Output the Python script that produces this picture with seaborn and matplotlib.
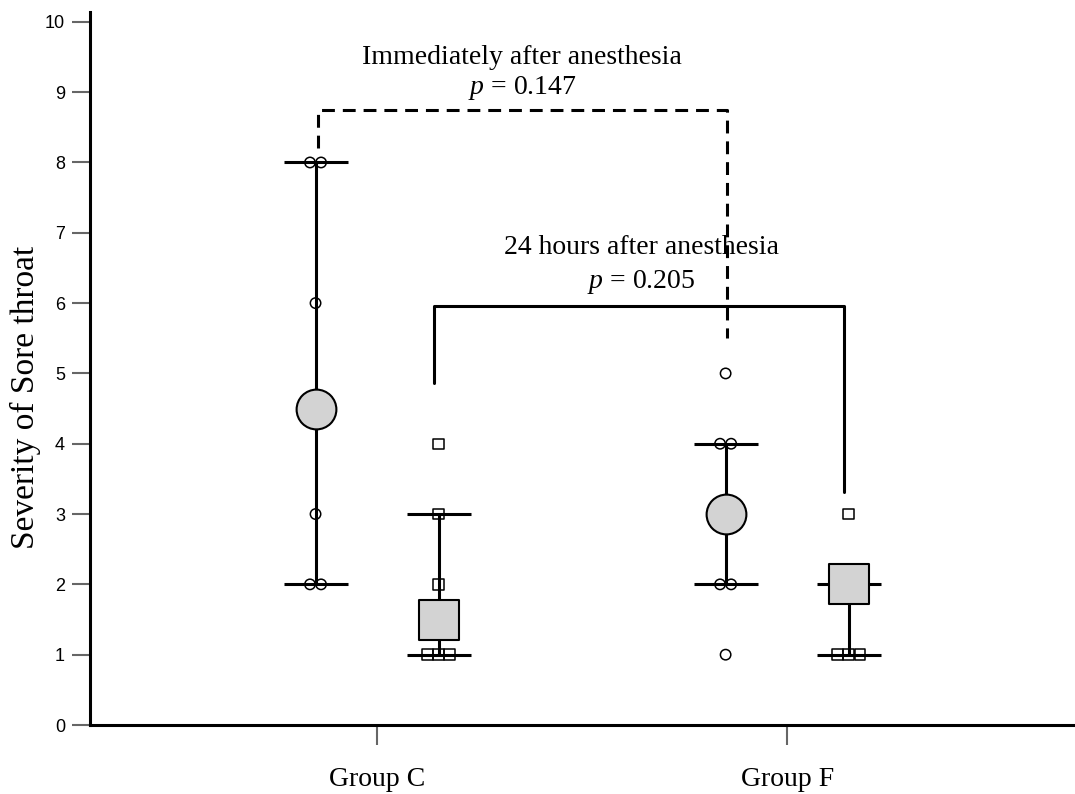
import pandas as pd
import seaborn as sns
import matplotlib.pyplot as plt
import numpy as np

sns.set_style("white")
plt.rcParams['font.family'] = ['Liberation Serif', 'DejaVu Serif']
plt.rcParams['mathtext.fontset'] = 'custom'
plt.rcParams['mathtext.rm'] = 'Liberation Serif'
plt.rcParams['mathtext.it'] = 'Liberation Serif:italic'
plt.rcParams['text.color'] = 'black'
plt.rcParams['axes.labelcolor'] = 'black'
plt.rcParams['xtick.labelcolor'] = 'black'
plt.rcParams['ytick.labelcolor'] = 'black'

# data
groups = ['Group C', 'Group F']
times = ['Immediately', '24 hours']
c_immediate = [8, 8, 6, 3, 2, 2]
c_24h = [4, 3, 2, 1, 1, 1]
f_immediate = [5, 4, 4, 2, 2, 1]
f_24h = [3, 1, 1, 1]
summary_center = [4.5, 1.5, 3.0, 2.0]   # C-imm, C-24, F-imm, F-24
summary_low = [2, 1, 2, 1]
summary_high = [8, 3, 4, 2]
p_immediate = 0.147
p_24h = 0.205
yticks = list(range(0, 11))

# annotation brackets
bracket_imm_x = [-0.144, -0.144, 0.854, 0.854]
bracket_imm_y = [8.2, 8.74, 8.74, 5.5]
bracket_24_x = [0.139, 0.139, 1.139, 1.139]
bracket_24_y = [4.86, 5.96, 5.96, 3.31]

offset = {'Immediately': -0.15, '24 hours': 0.15}
markers = {'Immediately': 'o', '24 hours': 's'}
dodge = 0.027

rows = []
raw = {('Group C', 'Immediately'): c_immediate, ('Group C', '24 hours'): c_24h,
       ('Group F', 'Immediately'): f_immediate, ('Group F', '24 hours'): f_24h}
for (g, t), vals in raw.items():
    base = groups.index(g) + offset[t]
    vals = np.array(vals)
    for v in np.unique(vals):
        k = (vals == v).sum()
        for j in range(k):
            rows.append({'group': g, 'time': t, 'score': v,
                         'x': base + (j - (k - 1) / 2) * dodge})
pts = pd.DataFrame(rows)

summ = pd.DataFrame({
    'group': ['Group C', 'Group C', 'Group F', 'Group F'],
    'time': times * 2,
    'center': summary_center, 'low': summary_low, 'high': summary_high})
summ['x'] = [groups.index(g) + offset[t] for g, t in zip(summ['group'], summ['time'])]

fig = plt.figure(figsize=(10.75, 7.94), dpi=100)
ax = fig.add_axes([90 / 1075, 69 / 794, 985 / 1075, 713 / 794])

for t in times:
    sns.scatterplot(data=pts[pts['time'] == t], x='x', y='score', marker=markers[t],
                    s=56, fc='none', ec='black', linewidth=1.1, zorder=2, ax=ax)

ax.vlines(summ['x'], summ['low'], summ['high'], color='black', lw=2.2, zorder=3)
ax.hlines(summ['low'], summ['x'] - 0.078, summ['x'] + 0.078, color='black', lw=2.2, zorder=3)
ax.hlines(summ['high'], summ['x'] - 0.078, summ['x'] + 0.078, color='black', lw=2.2, zorder=3)

for t in times:
    sns.scatterplot(data=summ[summ['time'] == t], x='x', y='center', marker=markers[t],
                    s=820, color='#d3d3d3', ec='black', linewidth=1.5, zorder=4, ax=ax)

ax.plot(bracket_imm_x, bracket_imm_y, color='black', lw=2.2, dashes=(4.2, 2.6), zorder=5)
ax.plot(bracket_24_x, bracket_24_y, color='black', lw=2.2, zorder=5)

ax.text(0.354, 9.5, 'Immediately after anesthesia', ha='center', va='center', fontsize=20)
ax.text(0.354, 9.06, '$p$ = %.3f' % p_immediate, ha='center', va='center', fontsize=20)
ax.text(0.644, 6.79, '24 hours after anesthesia', ha='center', va='center', fontsize=20)
ax.text(0.644, 6.30, '$p$ = %.3f' % p_24h, ha='center', va='center', fontsize=20)

ax.set_xlim(-0.70, 1.702)
ax.set_ylim(0, 10.14)
ax.set_xticks([0, 1])
ax.set_xticklabels(groups, fontsize=20)
ax.set_yticks(yticks)
ax.set_yticklabels([str(v) for v in yticks], family='Liberation Sans', fontsize=13)
ax.tick_params(axis='x', length=14.5, width=1.5, color='#666666', pad=16, direction='out', bottom=True)
ax.tick_params(axis='y', length=13, width=1.5, color='#666666', pad=5, direction='out', left=True)
ax.set_xlabel('')
ax.set_ylabel('Severity of Sore throat', fontsize=24)
ax.yaxis.set_label_coords(-0.05, 0.459)

sns.despine(ax=ax)
for s in ['left', 'bottom']:
    ax.spines[s].set_linewidth(2.2)
    ax.spines[s].set_color('black')

fig.savefig('out.png', dpi=100)
